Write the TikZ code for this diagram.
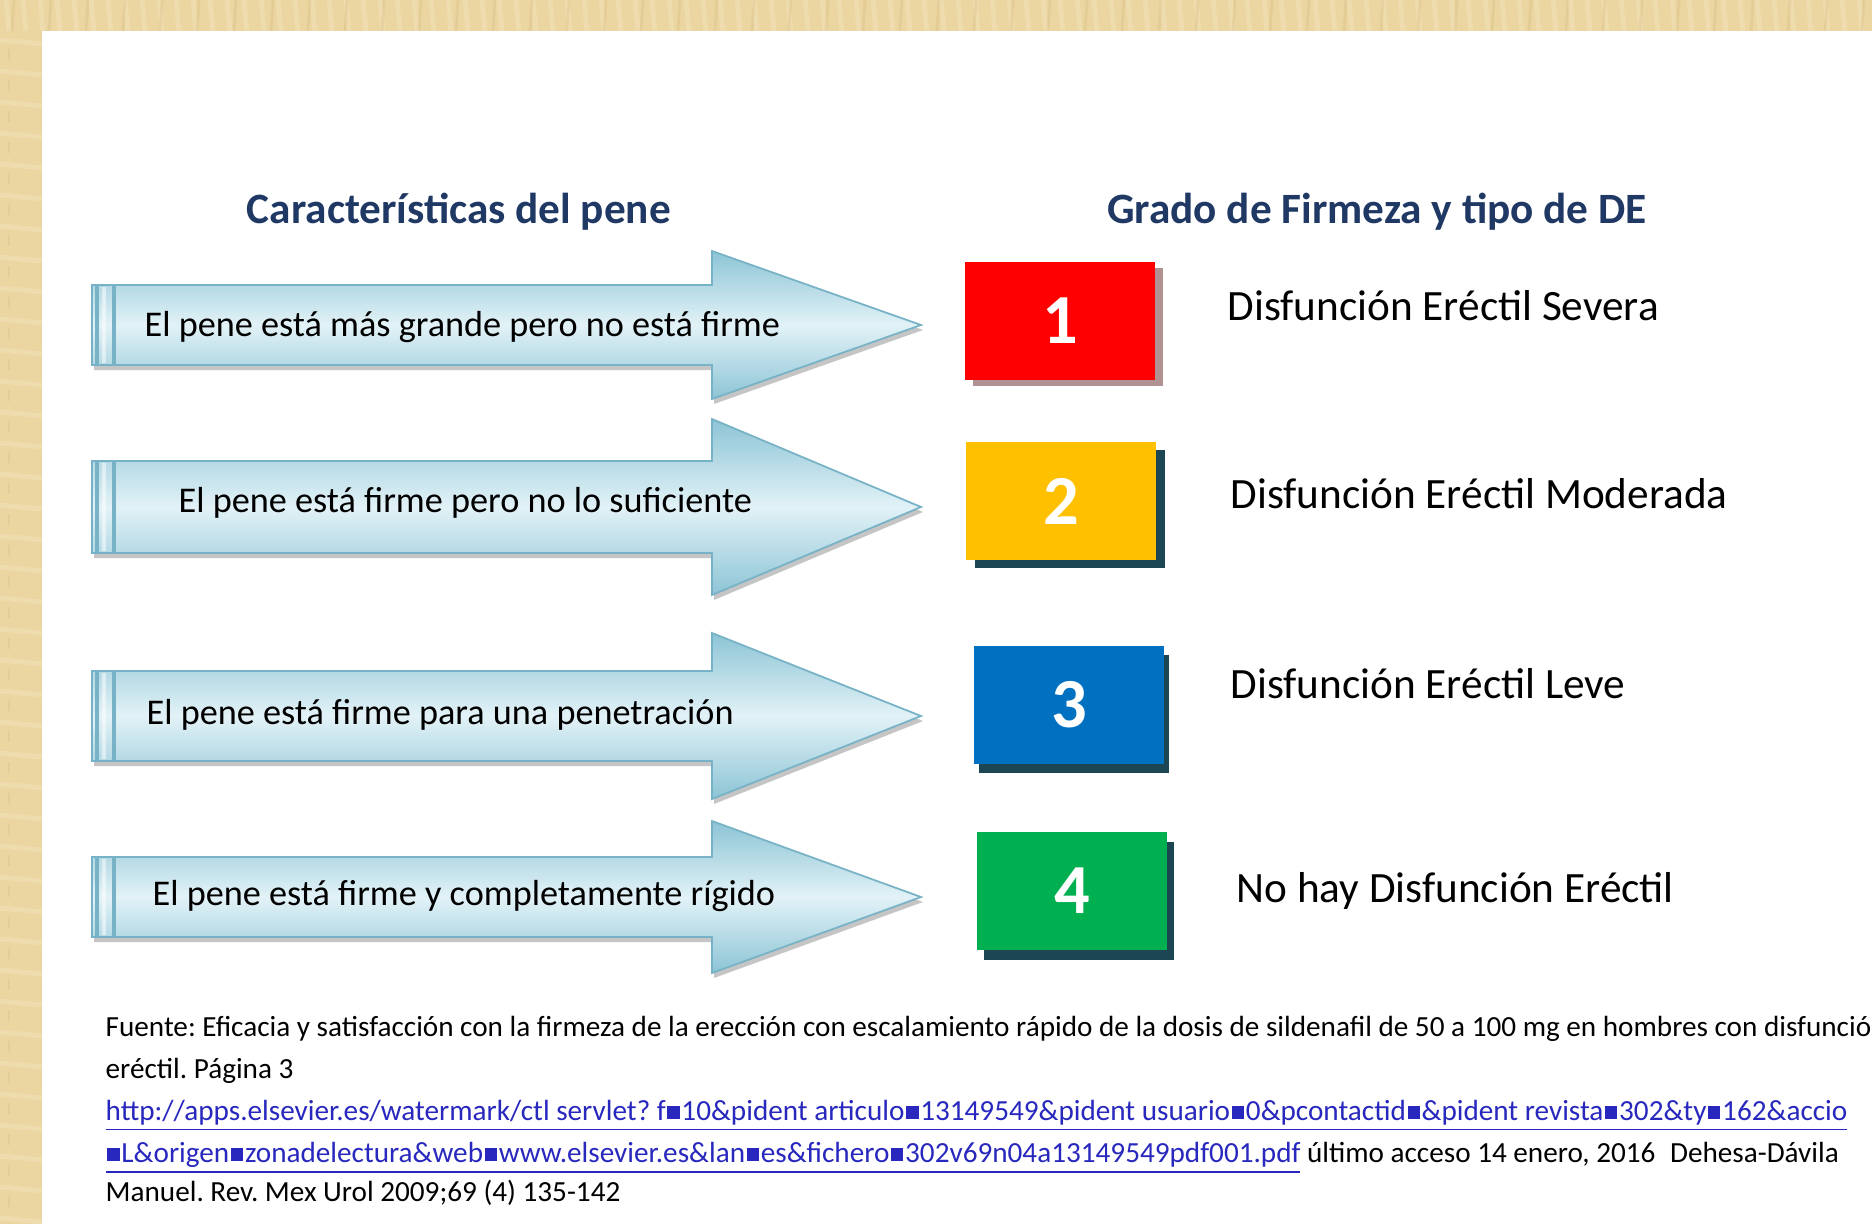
\documentclass[tikz,border=0pt]{standalone}
\usepackage{fontspec}
\setmainfont{Carlito}
\usetikzlibrary{shadows}

\definecolor{madera}{RGB}{235,213,160}
\definecolor{maderaclara}{RGB}{244,228,188}
\definecolor{maderaoscura}{RGB}{214,186,128}
\definecolor{azultitulo}{RGB}{31,56,100}
\definecolor{flechaborde}{RGB}{140,196,213}
\definecolor{flechacentro}{RGB}{226,242,247}
\definecolor{flechalinea}{RGB}{120,178,198}
\definecolor{rojo}{RGB}{255,0,0}
\definecolor{amarillo}{RGB}{255,192,0}
\definecolor{azul}{RGB}{0,112,192}
\definecolor{verde}{RGB}{0,176,80}
\definecolor{sombra}{RGB}{28,70,84}
\definecolor{sombragris}{RGB}{176,146,146}
\definecolor{enlace}{RGB}{40,40,190}

\newcommand{\cuadro}{\kern.06em\rule[.05em]{.42em}{.42em}\kern.06em}
\frenchspacing

\begin{document}
\begin{tikzpicture}[x=0.01cm,y=-0.01cm,
    titulo/.style={font=\fontsize{12.3}{14}\selectfont\bfseries,text=azultitulo,anchor=base,inner sep=0pt},
    flecha/.style={top color=flechaborde,bottom color=flechaborde,middle color=flechacentro,
        draw=flechalinea,line width=.5pt,
        drop shadow={shadow xshift=.02cm,shadow yshift=-.05cm,fill=gray,opacity=.45}},
    texto/.style={font=\fontsize{10.3}{12}\selectfont,anchor=base west,inner sep=0pt},
    caja/.style={minimum width=1.89cm,minimum height=1.17cm,inner sep=0pt,text=white,
        font=\fontsize{20}{24}\selectfont\bfseries},
    grado/.style={font=\fontsize{12.3}{14}\selectfont,anchor=base west,inner sep=0pt},
    fuente/.style={font=\fontsize{8.3}{10}\selectfont,anchor=base west,inner sep=0pt}]

    \useasboundingbox (0,0) rectangle (1872,1224);
    \clip (0,0) rectangle (1872,1224);

    % Marco de madera y hoja blanca
    \fill[madera] (0,0) rectangle (1872,1224);
    \foreach \x in {6,23,...,1872} {
        \draw[maderaclara,line width=1.4pt,opacity=.5] (\x,0) -- (\x+3,31);
    }
    \foreach \x in {14,51,...,1872} {
        \draw[maderaoscura,line width=.8pt,opacity=.3] (\x,0) -- (\x-2,31);
    }
    \foreach \y in {40,71,...,1224} {
        \draw[maderaclara,line width=1.4pt,opacity=.5] (0,\y) -- (42,\y+4);
        \draw[maderaoscura,line width=.6pt,opacity=.3] (9,\y+9) -- (9,\y+20);
    }
    \fill[white] (42,31) rectangle (1872,1224);

    % Titulos de las dos columnas
    \node[titulo] (tcar) at (459,223) {Características del pene};
    \node[titulo] (tgra) at (1377,223) {Grado de Firmeza y tipo de DE};

    % Flechas: numero/centro/medio cuerpo/media punta
    \foreach \n/\c/\hb/\hh in {1/325/40/74, 2/507/46/88, 3/716/45/83, 4/897/40/76} {
        \draw[flecha] (92,\c-\hb) -- (712,\c-\hb) -- (712,\c-\hh) -- (921,\c)
            -- (712,\c+\hh) -- (712,\c+\hb) -- (92,\c+\hb) -- cycle;
        \draw[flechalinea,line width=1pt] (97,\c-\hb) -- (97,\c+\hb);
        \draw[flechalinea,line width=1pt] (114,\c-\hb) -- (114,\c+\hb);
        \draw[white,opacity=.5,line width=1pt] (104,\c-\hb+2) -- (104,\c+\hb-2);
    }

    % Texto dentro de las flechas
    \node[texto] (car1) at (144,336) {El pene está más grande pero no está firme};
    \node[texto] (car2) at (178,512) {El pene está firme pero no lo suficiente};
    \node[texto] (car3) at (146,724) {El pene está firme para una penetración};
    \node[texto] (car4) at (152,905) {El pene está firme y completamente rígido};

    % Cuadros de grado con su sombra
    \foreach \n/\x/\y/\col/\som/\dx/\dy in {
        1/1060/321/rojo/sombragris/.08/-.06,
        2/1061/501/amarillo/sombra/.09/-.08,
        3/1069/705/azul/sombra/.05/-.09,
        4/1072/891/verde/sombra/.07/-.10} {
        \node[caja,fill=\col,
            drop shadow={shadow xshift=\dx cm,shadow yshift=\dy cm,fill=\som,opacity=1}]
            (g\n) at (\x,\y) {\n};
    }

    % Tipo de disfuncion
    \node[grado] (d1) at (1227,320) {Disfunción Eréctil Severa};
    \node[grado] (d2) at (1230,508) {Disfunción Eréctil Moderada};
    \node[grado] (d3) at (1230,698) {Disfunción Eréctil Leve};
    \node[grado] (d4) at (1236,902) {No hay Disfunción Eréctil};

    % Fuente
    \node[fuente] (f1) at (105,1036) {Fuente: Eficacia y satisfacción con la firmeza de la erección con escalamiento rápido de la dosis de sildenafil de 50 a 100 mg en hombres con disfunció};
    \node[fuente] (f2) at (105,1078) {eréctil. Página 3};
    \node[fuente] (f3) at (105,1120) {\textcolor{enlace}{\underline{http://apps.elsevier.es/watermark/ctl servlet? f\cuadro10\&pident articulo\cuadro13149549\&pident usuario\cuadro0\&pcontactid\cuadro\&pident revista\cuadro302\&ty\cuadro162\&accio}}};
    \node[fuente] (f4) at (105,1162) {\textcolor{enlace}{\underline{\cuadro L\&origen\cuadro zonadelectura\&web\cuadro www.elsevier.es\&lan\cuadro es\&fichero\cuadro 302v69n04a13149549pdf001.pdf}} último acceso 14 enero, 2016\enspace Dehesa-Dávila};
    \node[fuente] (f5) at (105,1201) {Manuel. Rev. Mex Urol 2009;69 (4) 135-142};
\end{tikzpicture}
\end{document}
